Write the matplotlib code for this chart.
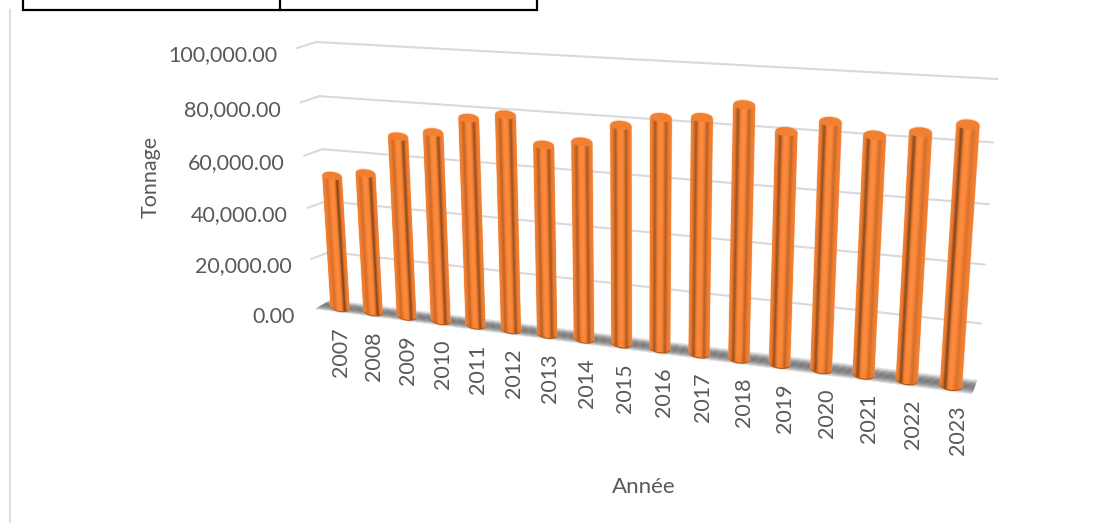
import numpy as np
import matplotlib
matplotlib.use('Agg')
import matplotlib.pyplot as plt
from matplotlib.transforms import Transform

plt.rcParams['font.family'] = ['Lato', 'DejaVu Sans']

# Values
years = [2007, 2008, 2009, 2010, 2011, 2012, 2013, 2014, 2015, 2016, 2017, 2018, 2019, 2020, 2021, 2022, 2023]
tonnage = [50800, 52900, 67500, 70000, 76100, 78200, 68600, 70700, 77400, 81000, 81900, 87000, 79200, 83400, 80000, 82000, 85400]
y_ticks = [0, 20000, 40000, 60000, 80000, 100000]

GRID = "#d9d9d9"
TEXT = "#595959"
ORANGE = np.array([0.95, 0.49, 0.18])


class Perspective(Transform):
    # plane homography, maps 4 source corners to 4 pixel corners
    input_dims = 2
    output_dims = 2

    def __init__(self, src, dst):
        super().__init__()
        A, b = [], []
        for (x, y), (px, py) in zip(src, dst):
            A.append([x, y, 1, 0, 0, 0, -px * x, -px * y])
            A.append([0, 0, 0, x, y, 1, -py * x, -py * y])
            b += [px, py]
        self.H = np.append(np.linalg.lstsq(np.array(A, float), np.array(b, float), rcond=None)[0], 1).reshape(3, 3)

    def transform_non_affine(self, xy):
        xy = np.asarray(xy, float)
        p = np.column_stack([xy, np.ones(len(xy))]) @ self.H.T
        return p[:, :2] / p[:, 2:]


fig = plt.figure(figsize=(11.12, 5.23), dpi=100)
ax = fig.add_axes([0, 0, 1, 1])
ax.set_xlim(0, 1112)
ax.set_ylim(523, 0)
ax.set_autoscale_on(False)
ax.axis('off')

# 3D box of the chart, as planes
first, last = years[0], years[-1]
top = y_ticks[-1]
wall = Perspective([(first - .5, 0), (last + .5, 0), (last + .5, top), (first - .5, top)],
                   [(333, 302), (977, 381), (997, 79), (316, 42)])
side = Perspective([(0, 0), (1, 0), (1, top), (0, top)],
                   [(315, 309), (333, 302), (316, 42), (297, 48)])
floor = Perspective([(first - .5, 0), (last + .5, 0), (last + .5, 1), (first - .5, 1)],
                    [(315, 309), (972, 394), (977, 380), (331, 300)])
bars = Perspective([(first, 0), (last, 0), (last, top), (first, top)],
                   [(340, 307), (951, 385), (971, 77), (324, 42)])

# table border and page rule at the top
ax.plot([23, 23, 537, 537], [0, 10, 10, 0], color='black', lw=1.6, solid_joinstyle='miter')
ax.plot([280, 280], [0, 10], color='black', lw=1.6)
ax.plot([9.5, 9.5], [10, 523], color="#e0e0e0", lw=1.6)

# gridlines
for v in y_ticks[1:]:
    ax.plot([first - .5, last + .5], [v, v], color=GRID, lw=1.5, zorder=0.5, transform=wall + ax.transData)
    ax.plot([0, 1], [v, v], color=GRID, lw=1.5, zorder=0.5, transform=side + ax.transData)

# floor, darker in the middle
depth = np.linspace(0, 1, 13)
for d0, d1 in zip(depth[:-1], depth[1:]):
    g = 0.48 + 0.46 * abs((d0 + d1) - 1) ** 2
    ax.fill([first - .5, last + .5, last + .5, first - .5], [d0, d0, d1, d1], color=(g, g, g), lw=0.3,
            transform=floor + ax.transData)

# cylinders
cap = 1500
edges = np.linspace(-1, 1, 41)
t_cap = np.linspace(0, 2 * np.pi, 60)
for i, (yr, val) in enumerate(zip(years, tonnage)):
    tr = bars + ax.transData
    f = i / (len(years) - 1)
    half = 0.285 - 0.045 * f  # left bars look a bit fatter in the reference
    # pale halo
    hs = np.linspace(-1, 1, 40)
    arc = np.sqrt(1 - hs ** 2)
    ax.fill(np.r_[yr + 1.08 * half * hs, yr + 1.08 * half * hs[::-1]],
            np.r_[val + cap * 1.2 * arc, -cap * 1.2 * arc[::-1]],
            color="#f7b98c", alpha=0.5, lw=0, transform=tr)
    # dark rim at the foot
    ax.fill(yr + half * np.cos(t_cap), -cap * 0.35 + cap * np.sin(t_cap), color="#b85510", lw=0, transform=tr)
    for s0, s1 in zip(edges[:-1], edges[1:]):
        s = (s0 + s1) / 2
        left = np.exp(-((s + 0.52) / 0.18) ** 2) * (0.10 + 0.34 * f)
        right = np.exp(-((s - 0.52) / 0.18) ** 2) * (0.44 - 0.34 * f)
        glow = np.exp(-(s / 0.3) ** 2) * 0.05
        col = np.clip(ORANGE * (1 - left - right) + glow, 0, 1)
        a0, a1 = np.sqrt(max(1 - s0 ** 2, 0)), np.sqrt(max(1 - s1 ** 2, 0))
        xs = [yr + half * s0, yr + half * s1, yr + half * s1, yr + half * s0]
        vs = [-cap * a0, -cap * a1, val - cap * a1, val - cap * a0]
        ax.fill(xs, vs, color=col, lw=0.3, transform=tr)
    ax.fill(yr + half * np.cos(t_cap), val + cap * np.sin(t_cap), color="#f28030", lw=0, transform=tr)

# tick labels
for yr in years:
    ax.annotate(str(yr), xy=(yr, 0), xycoords=bars + ax.transData, xytext=(1 + (yr - first) * 0.35, -20),
                textcoords='offset pixels', rotation=90, ha='center', va='top', fontsize=15.5, color=TEXT)
for v in y_ticks:
    ax.annotate(f"{v:,.2f}", xy=(0, v), xycoords=side + ax.transData, xytext=(-20, -7.5),
                textcoords='offset pixels', ha='right', va='center', fontsize=15.5, color=TEXT)

ax.text(151, 177, "Tonnage", rotation=90, ha='center', va='center', fontsize=15.5, color=TEXT)
ax.text(644, 487, "Année", ha='center', va='center', fontsize=16, color=TEXT)

fig.savefig("out.png", dpi=100)
plt.close(fig)
